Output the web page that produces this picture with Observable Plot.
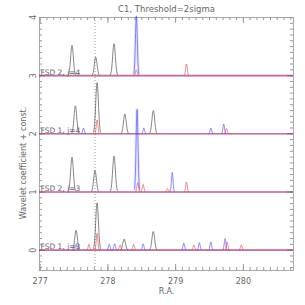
<!DOCTYPE html>
<html><head><meta charset="utf-8">
<script src="https://cdn.jsdelivr.net/npm/d3@7"></script>
<script src="https://cdn.jsdelivr.net/npm/@observablehq/plot@0.6"></script>
<style>body{margin:0;background:#fff}</style>
</head><body><div id="chart"></div>
<script>
const title = "C1, Threshold=2sigma";
const xLabel = "R.A.";
const yLabel = "Wavelet coefficient + const.";
const panelOffsets = [3, 2, 1, 0];
const panelLabels = ["FSD 2, j=4", "FSD 1, j=4", "FSD 2, j=3", "FSD 1, j=3"];
const xTicks = [277, 278, 279, 280];
const yTicks = [0, 1, 2, 3, 4];
const markerRA = 277.81;

// peaks: [R.A. centre, amplitude] per panel and colour
const black3 = [[277.47, 0.52], [277.82, 0.32], [278.09, 0.55]];
const blue3  = [[278.42, 1.02]];
const red3   = [[278.42, 0.10], [279.16, 0.20]];

const black2 = [[277.52, 0.48], [277.84, 0.88], [278.25, 0.34], [278.67, 0.40]];
const blue2  = [[277.64, 0.10], [278.53, 0.10], [279.52, 0.10], [279.71, 0.17]];
const red2   = [[277.84, 0.24], [279.75, 0.09]];

const black1 = [[277.47, 0.60], [277.81, 0.37], [278.09, 0.62]];
const blue1  = [[278.43, 1.42], [278.95, 0.34]];
const red1   = [[278.44, 0.16], [278.52, 0.13], [278.88, 0.06], [279.16, 0.17]];

const black0 = [[277.53, 0.34], [277.84, 0.81], [278.24, 0.19], [278.67, 0.32]];
const blue0  = [[277.53, 0.10], [278.02, 0.10], [278.10, 0.11], [278.52, 0.11], [279.12, 0.12], [279.35, 0.13], [279.52, 0.14], [279.73, 0.20]];
const red0   = [[277.72, 0.10], [277.84, 0.29], [278.18, 0.09], [278.38, 0.10], [279.27, 0.09], [279.76, 0.14], [279.97, 0.09]];

const groups = [
  {offset: 3, kind: "black", peaks: black3}, {offset: 3, kind: "blue", peaks: blue3}, {offset: 3, kind: "red", peaks: red3},
  {offset: 2, kind: "black", peaks: black2}, {offset: 2, kind: "blue", peaks: blue2}, {offset: 2, kind: "red", peaks: red2},
  {offset: 1, kind: "black", peaks: black1}, {offset: 1, kind: "blue", peaks: blue1}, {offset: 1, kind: "red", peaks: red1},
  {offset: 0, kind: "black", peaks: black0}, {offset: 0, kind: "blue", peaks: blue0}, {offset: 0, kind: "red", peaks: red0}
];

const colors = {black: "#555", blue: "#3a3aff", red: "#e03a3a"};
const widths = {black: 0.02, blue: 0.012, red: 0.012};
const shape = d3.range(-2.6, 2.601, 0.2);

const rows = [];
let id = 0;
for (const g of groups) {
  for (const [cx, h] of g.peaks) {
    const s = h > 0.9 ? 0.014 : widths[g.kind];
    for (const u of shape) {
      rows.push({id, kind: g.kind, tall: h > 0.9, x: cx + u * s, y: g.offset + h * Math.exp(-u * u / 2)});
    }
    id++;
  }
}
const rowsOf = k => rows.filter(r => r.kind === k);
const haloRows = rows.filter(r => r.tall);

const minorX = d3.range(277, 280.75, 0.1).map(v => +v.toFixed(1));
const minorY = d3.range(-0.3, 4.001, 0.1).map(v => +v.toFixed(1));

const fw = 305 - 39 - 12, fh = 305 - 17 - 35;

const chart = Plot.plot({
  width: 305, height: 305,
  marginTop: 17, marginLeft: 39, marginRight: 12, marginBottom: 35,
  x: {domain: [276.99, 280.74], axis: null},
  y: {domain: [-0.35, 4], axis: null},
  style: {fontFamily: "'DejaVu Sans', sans-serif", fontSize: "8px", color: "#666", background: "#fff"},
  marks: [
    Plot.frame({stroke: "#aaa"}),
    // inward ticks
    Plot.tickX(minorX, {x: d => d, insetTop: fh - 3, stroke: "#999"}),
    Plot.tickX(minorX, {x: d => d, insetBottom: fh - 3, stroke: "#999"}),
    Plot.tickX(xTicks, {x: d => d, insetTop: fh - 6, stroke: "#999"}),
    Plot.tickX(xTicks, {x: d => d, insetBottom: fh - 6, stroke: "#999"}),
    Plot.tickY(minorY, {y: d => d, insetRight: fw - 3, stroke: "#999"}),
    Plot.tickY(minorY, {y: d => d, insetLeft: fw - 3, stroke: "#999"}),
    Plot.tickY(yTicks, {y: d => d, insetRight: fw - 6, stroke: "#999"}),
    Plot.tickY(yTicks, {y: d => d, insetLeft: fw - 6, stroke: "#999"}),
    Plot.ruleX([markerRA], {x: d => d, stroke: "#999", strokeDasharray: "1,2"}),
    // baselines (blue under red)
    Plot.ruleY(panelOffsets, {y: d => d, stroke: colors.blue, strokeWidth: 1.6, strokeOpacity: 0.45}),
    Plot.ruleY(panelOffsets, {y: d => d, stroke: colors.red, strokeWidth: 1.6, strokeOpacity: 0.5}),
    Plot.line(rowsOf("black"), {x: "x", y: "y", z: "id", stroke: colors.black, strokeWidth: 0.8, strokeOpacity: 0.9, curve: "natural"}),
    Plot.line(haloRows, {x: "x", y: "y", z: "id", stroke: colors.blue, strokeWidth: 3, strokeOpacity: 0.12, curve: "natural"}),
    Plot.line(rowsOf("blue"), {x: "x", y: "y", z: "id", stroke: colors.blue, strokeWidth: 0.8, strokeOpacity: 0.75, curve: "natural"}),
    Plot.line(rowsOf("red"), {x: "x", y: "y", z: "id", stroke: colors.red, strokeWidth: 0.8, strokeOpacity: 0.75, curve: "natural"}),
    // labels
    Plot.text(panelLabels, {y: (d, i) => panelOffsets[i], text: d => d, frameAnchor: "left", textAnchor: "start", lineAnchor: "bottom", dx: 1, dy: -1, fontSize: 7.5, fill: "#666"}),
    Plot.text(xTicks, {x: d => d, text: d => String(d), frameAnchor: "bottom", lineAnchor: "middle", dy: 11, fill: "#666"}),
    Plot.text(yTicks, {y: d => d, text: d => String(d), frameAnchor: "left", textAnchor: "middle", lineAnchor: "middle", rotate: -90, dx: -6, fill: "#666"}),
    Plot.text([title], {text: d => d, frameAnchor: "top", lineAnchor: "middle", dy: -8, fontSize: 8.5, fill: "#666"}),
    Plot.text([xLabel], {text: d => d, frameAnchor: "bottom", lineAnchor: "middle", dy: 21, fill: "#666"}),
    Plot.text([yLabel], {text: d => d, frameAnchor: "left", lineAnchor: "middle", textAnchor: "middle", rotate: -90, dx: -16, dy: 19, fontSize: 8, fill: "#666"})
  ]
});
document.getElementById("chart").appendChild(chart);
</script>
</body></html>
